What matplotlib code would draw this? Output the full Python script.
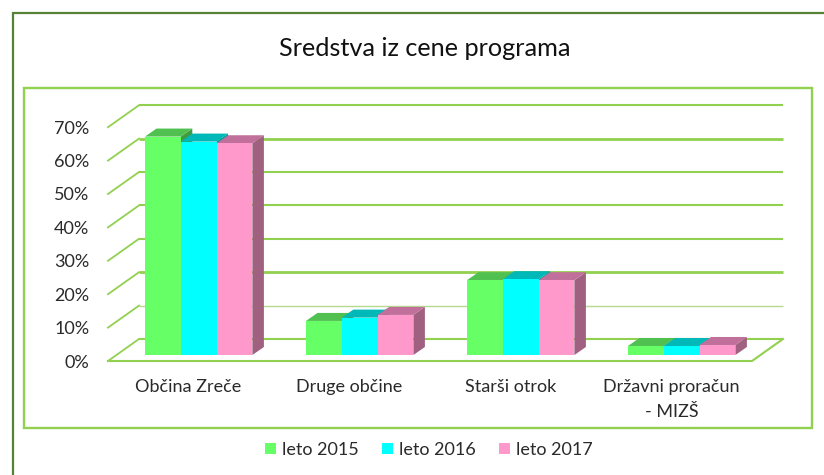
"""Sredstva iz cene programa - 3D looking column chart."""

import matplotlib
matplotlib.use('Agg')
import matplotlib.pyplot as plt
from matplotlib.lines import Line2D
from matplotlib.patches import Patch, Polygon, Rectangle

plt.rcParams['font.family'] = ['Lato', 'DejaVu Sans']

categories = ['Občina Zreče', 'Druge občine', 'Starši otrok', 'Državni proračun\n- MIZŠ']
series_names = ['leto 2015', 'leto 2016', 'leto 2017']
leto_2015 = [65.4, 10.2, 22.4, 2.7]
leto_2016 = [63.9, 11.2, 22.7, 2.7]
leto_2017 = [63.4, 12.0, 22.4, 3.0]
y_ticks = [0, 10, 20, 30, 40, 50, 60, 70]
y_labels = ['0%', '10%', '20%', '30%', '40%', '50%', '60%', '70%']

FRONT = ['#66FF66', '#00FFFF', '#FF99CC']
TOP = ['#50C050', '#00B8B8', '#C0709A']
SIDE = ['#3F9C3F', '#009C9C', '#A0607F']
GRID = '#92D050'
TEXT = '#2A2A2A'

W, H = 824, 475
# depth of the floor and of one bar, in data units
FLOOR_DX, FLOOR_DY = 31 / 161, 22 / 3.34
BAR_DX, BAR_DY = 11.5 / 161, 8 / 3.34
BAR_W = 35.8 / 161
BAR_X0 = 37 / 161
BAR_Y0 = 6 / 3.34

fig = plt.figure(figsize=(W / 100, H / 100), dpi=100, facecolor='white')

# Outer and inner frames
fig.add_artist(Line2D([12.5 / W, 12.5 / W, 1], [0, 1 - 13 / H, 1 - 13 / H],
                      color='#558235', lw=1.6, solid_joinstyle='miter'))
fig.add_artist(Rectangle((23.5 / W, 1 - 428 / H), 788.5 / W, 340 / H, fill=False,
                         edgecolor=GRID, lw=1.7))

ax = fig.add_axes([108 / W, 1 - 361 / H, 644 / W, 233.8 / H])
ax.set_xlim(0, 4)
ax.set_ylim(0, 70)
for spine in ax.spines.values():
    spine.set_visible(False)
ax.patch.set_alpha(0)

# Back wall, side wall and floor
for v in y_ticks:
    if v == 10:
        lw, col = 1.0, '#B5DB8C'
    elif v in (20, 60):
        lw = 2.0
        col = GRID
    else:
        lw, col = 1.5, GRID
    ax.plot([FLOOR_DX, 4 + FLOOR_DX], [v + FLOOR_DY, v + FLOOR_DY], color=col, lw=lw,
            clip_on=False, zorder=1, solid_capstyle='butt')
    ax.plot([0, FLOOR_DX], [v, v + FLOOR_DY], color=GRID, lw=1.3, clip_on=False, zorder=1)
ax.plot([0, 4, 4 + FLOOR_DX], [0, 0, FLOOR_DY], color=GRID, lw=1.5, clip_on=False, zorder=1)

# Bars
z = 2
for i in range(len(categories)):
    for s, values in enumerate([leto_2015, leto_2016, leto_2017]):
        x = i + BAR_X0 + s * BAR_W
        top = BAR_Y0 + values[i]
        ax.add_patch(Polygon([(x + BAR_W, BAR_Y0), (x + BAR_W + BAR_DX, BAR_Y0 + BAR_DY),
                              (x + BAR_W + BAR_DX, top + BAR_DY), (x + BAR_W, top)],
                             facecolor=SIDE[s], edgecolor='none', clip_on=False, zorder=z))
        ax.add_patch(Polygon([(x, top), (x + BAR_DX, top + BAR_DY),
                              (x + BAR_W + BAR_DX, top + BAR_DY), (x + BAR_W, top)],
                             facecolor=TOP[s], edgecolor='none', clip_on=False, zorder=z))
        ax.bar(x, values[i], BAR_W, bottom=BAR_Y0, align='edge', color=FRONT[s],
               clip_on=False, zorder=z + 0.5)
        z += 1

# Axis labels
ax.set_yticks(y_ticks, y_labels)
ax.set_xticks([i + 0.5 for i in range(len(categories))], categories)
ax.tick_params(axis='y', length=0, pad=13.5, labelsize=13, labelcolor=TEXT)
ax.tick_params(axis='x', length=0, pad=12.7, labelsize=13, labelcolor=TEXT)
for label in ax.get_xticklabels():
    label.set_linespacing(1.72)

fig.text(424.5 / W, 1 - 48 / H, 'Sredstva iz cene programa', fontsize=18.2, color='#111111',
         ha='center', va='center')

handles = [Patch(facecolor=c, edgecolor='none') for c in FRONT]
fig.legend(handles, series_names, loc='center', bbox_to_anchor=(429 / W, 1 - 450 / H),
           ncols=3, frameon=False, fontsize=13, labelcolor=TEXT, handlelength=0.62,
           handleheight=0.62, handletextpad=0.33, columnspacing=1.28)

fig.savefig('out.png', dpi=100, facecolor='white')
